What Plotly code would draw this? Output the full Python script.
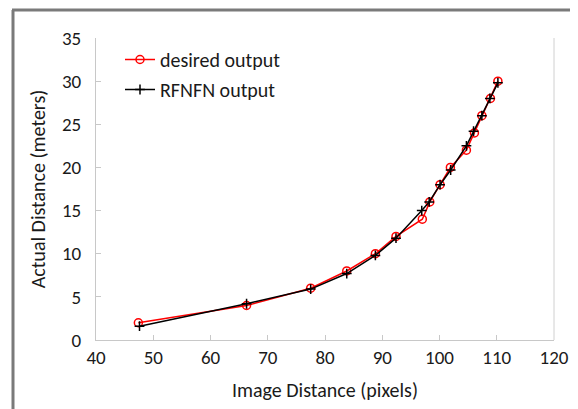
import plotly.graph_objects as go

# Desired output (red circles)
desired_x = [47.4, 66.3, 77.5, 83.8, 88.8, 92.4, 97.0, 98.3, 100.1, 101.9, 104.7, 106.1, 107.4, 108.9, 110.2]
desired_y = [2.0, 4.0, 6.0, 8.0, 10.0, 12.0, 14.0, 16.0, 18.0, 20.0, 22.0, 24.0, 26.0, 28.0, 30.0]

# RFNFN output (black plus)
rfnfn_x = [47.6, 66.3, 77.5, 83.8, 88.8, 92.4, 96.9, 98.2, 100.1, 101.95, 104.7, 105.95, 107.4, 108.8, 110.2]
rfnfn_y = [1.6, 4.2, 5.9, 7.7, 9.8, 11.8, 15.0, 16.0, 18.0, 19.7, 22.5, 24.2, 26.0, 28.0, 29.8]

x_ticks = [40, 50, 60, 70, 80, 90, 100, 110, 120]
y_ticks = [0, 5, 10, 15, 20, 25, 30, 35]

FONT = "Carlito, Lato, 'Liberation Sans', sans-serif"

fig = go.Figure()
fig.add_trace(go.Scatter(
    x=desired_x, y=desired_y, name="desired output", mode="lines+markers",
    line=dict(color="#ff0000", width=1.5),
    marker=dict(symbol="circle-open", size=8, color="#ff0000", line=dict(width=1.5)),
    legendgroup="a"))
fig.add_trace(go.Scatter(
    x=rfnfn_x, y=rfnfn_y, name="RFNFN output", mode="lines+markers",
    line=dict(color="#000000", width=1.5),
    marker=dict(symbol="cross-thin", size=7, color="#000000", line=dict(width=1.5, color="#000000")),
    legendgroup="b"))

# The page body has an 8px margin, so the figure is offset by 8px; compensate.
OFF = 8
W, H = 578 - OFF, 409 - OFF
L, R, T, B = 96 - OFF, 24, 38 - OFF, 69
pw = W - L - R
ph = H - T - B

def px_to_paper_x(px):
    return (px - OFF - L) / pw

def px_to_paper_y(py):
    return (H - B - (py - OFF)) / ph

shapes = [
    # right plot border
    dict(type="line", xref="paper", yref="paper", x0=1, x1=1, y0=0, y1=1,
         line=dict(color="#d0d0d0", width=1)),
    # outer chart frame (left and top)
    dict(type="line", xref="paper", yref="paper",
         x0=px_to_paper_x(13), x1=px_to_paper_x(13), y0=px_to_paper_y(430), y1=px_to_paper_y(10),
         line=dict(color="#7a7a7a", width=3)),
    dict(type="line", xref="paper", yref="paper",
         x0=px_to_paper_x(12), x1=px_to_paper_x(600), y0=px_to_paper_y(10), y1=px_to_paper_y(10),
         line=dict(color="#7a7a7a", width=3)),
]

fig.update_layout(
    width=W, height=H,
    margin=dict(l=L, r=R, t=T, b=B, autoexpand=False),
    paper_bgcolor="white", plot_bgcolor="white",
    font=dict(family=FONT, size=19, color="#1a1a1a"),
    showlegend=True,
    legend=dict(x=px_to_paper_x(120), y=px_to_paper_y(40), xanchor="left", yanchor="top",
                bgcolor="rgba(0,0,0,0)", font=dict(size=20), tracegroupgap=1,
                traceorder="grouped", itemwidth=30),
    shapes=shapes,
    xaxis=dict(range=[40, 120], tickvals=x_ticks, ticktext=[str(v) for v in x_ticks],
               showgrid=False, zeroline=False, showline=True, linecolor="#c8c8c8", linewidth=1,
               ticks="inside", ticklen=5, tickcolor="#c8c8c8", automargin=False,
               tickfont=dict(size=19),
               title=dict(text="Image Distance (pixels)", font=dict(size=20), standoff=15)),
    yaxis=dict(range=[0, 35], tickvals=y_ticks, ticktext=[str(v) for v in y_ticks],
               showgrid=False, zeroline=False, showline=True, linecolor="#c8c8c8", linewidth=1,
               ticks="inside", ticklen=5, tickcolor="#c8c8c8", automargin=False,
               ticklabelstandoff=10, tickfont=dict(size=19),
               title=dict(text="Actual Distance (meters)", font=dict(size=20), standoff=10)),
)

fig.write_html("out.html")
